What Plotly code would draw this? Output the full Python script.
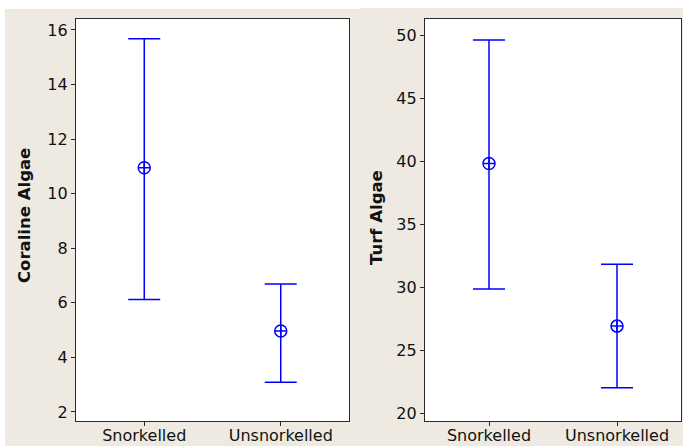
import plotly.graph_objects as go

W, H = 683, 446

groups = ["Snorkelled", "Unsnorkelled"]

# Coraline algae: mean with lower / upper interval bounds
coraline_mean = [10.95, 4.97]
coraline_low = [6.12, 3.09]
coraline_high = [15.68, 6.69]

# Turf algae: mean with lower / upper interval bounds
turf_mean = [39.8, 26.9]
turf_low = [29.85, 22.0]
turf_high = [49.6, 31.8]

coraline_ticks = [2, 4, 6, 8, 10, 12, 14, 16]
turf_ticks = [20, 25, 30, 35, 40, 45, 50]

BLUE = "#0000FF"
PANEL_BG = "#EEEAE1"
FONT = "DejaVu Sans"


def px_x(p):
    return p / W


def px_y(p):
    return 1 - p / H


def interval_trace(means, lows, highs, xa, ya):
    return go.Scatter(
        x=groups,
        y=means,
        xaxis=xa,
        yaxis=ya,
        mode="markers",
        marker=dict(symbol="circle-cross-open", size=12, color=BLUE,
                    line=dict(width=1.5, color=BLUE)),
        error_y=dict(type="data", symmetric=False,
                     array=[h - m for h, m in zip(highs, means)],
                     arrayminus=[m - l for m, l in zip(means, lows)],
                     width=16, thickness=1.5, color=BLUE),
        showlegend=False,
        hoverinfo="skip",
    )


fig = go.Figure()
fig.add_trace(interval_trace(coraline_mean, coraline_low, coraline_high, "x", "y"))
fig.add_trace(interval_trace(turf_mean, turf_low, turf_high, "x2", "y2"))

plot_top, plot_bottom = 19, 421
left_box = (76, 349)
right_box = (425, 681)
ydom = [px_y(plot_bottom), px_y(plot_top)]

axis_common = dict(
    showline=True, linecolor="#2a2a2a", linewidth=1.2, mirror=True,
    ticks="outside", ticklen=4, tickwidth=1, tickcolor="#2a2a2a",
    showgrid=False, zeroline=False, automargin=False,
)
ytick_font = dict(family=FONT, size=16, color="#111111")
xtick_font = dict(family=FONT, size=16, color="#111111")

shapes = [
    dict(type="rect", xref="paper", yref="paper", layer="below",
         x0=px_x(5), x1=px_x(359), y0=0, y1=px_y(9),
         fillcolor=PANEL_BG, line=dict(width=0)),
    dict(type="rect", xref="paper", yref="paper", layer="below",
         x0=px_x(359), x1=1, y0=0, y1=px_y(8),
         fillcolor=PANEL_BG, line=dict(width=0)),
]
# white plotting regions on top of the panel backgrounds
for x0, x1 in (left_box, right_box):
    shapes.append(dict(type="rect", xref="paper", yref="paper", layer="below",
                       x0=px_x(x0), x1=px_x(x1), y0=ydom[0], y1=ydom[1],
                       fillcolor="white", line=dict(width=0)))

xaxis_extra = dict(type="category", range=[-0.5, 1.5], tickfont=xtick_font,
                   ticklabelstandoff=-4)

fig.update_layout(
    width=W, height=H,
    margin=dict(l=0, r=0, t=0, b=0, autoexpand=False),
    paper_bgcolor="white",
    plot_bgcolor="white",
    xaxis=dict(domain=[px_x(left_box[0]), px_x(left_box[1])], anchor="y",
               **xaxis_extra, **axis_common),
    yaxis=dict(domain=ydom, range=[1.67, 16.4], anchor="x",
               tickvals=coraline_ticks, tickfont=ytick_font, **axis_common),
    xaxis2=dict(domain=[px_x(right_box[0]), px_x(right_box[1])], anchor="y2",
                **xaxis_extra, **axis_common),
    yaxis2=dict(domain=ydom, range=[19.37, 51.27], anchor="x2",
                tickvals=turf_ticks, tickfont=ytick_font, **axis_common),
    shapes=shapes,
    annotations=[
        dict(text="<b>Coraline Algae</b>", xref="paper", yref="paper",
             x=px_x(24), y=px_y(216), textangle=-90, showarrow=False,
             xanchor="center", yanchor="middle",
             font=dict(family=FONT, size=16.5, color="#111111")),
        dict(text="<b>Turf Algae</b>", xref="paper", yref="paper",
             x=px_x(376), y=px_y(218), textangle=-90, showarrow=False,
             xanchor="center", yanchor="middle",
             font=dict(family=FONT, size=16.5, color="#111111")),
    ],
)

fig.write_html("out.html")
